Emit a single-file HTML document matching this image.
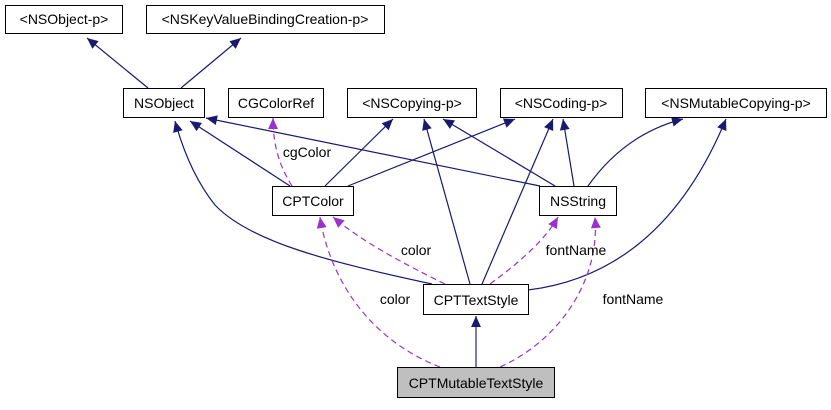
<!DOCTYPE html>
<html><head><meta charset="utf-8"><style>
body{margin:0;background:#fff;width:831px;height:405px;overflow:hidden}
text{font-family:"Liberation Sans",sans-serif;font-size:14px;fill:#000}
</style></head><body>
<svg width="831" height="405" viewBox="0 0 831 405" xmlns="http://www.w3.org/2000/svg">
<defs>
<marker id="n" viewBox="0 0 10 10" refX="10" refY="5" markerWidth="12" markerHeight="11" markerUnits="userSpaceOnUse" orient="auto"><path d="M0,0.5L10,5L0,9.5z" fill="#191970"/></marker>
<marker id="p" viewBox="0 0 10 10" refX="10" refY="5" markerWidth="12" markerHeight="11" markerUnits="userSpaceOnUse" orient="auto"><path d="M0,0.5L10,5L0,9.5z" fill="#9a32cd"/></marker>
</defs>
<g fill="none" stroke="#191970" stroke-width="1.2" marker-end="url(#n)">
<path d="M148,88L87,38"/>
<path d="M181,88L241,38"/>
<path d="M290,186L190,121"/>
<path d="M432,284C330,262 250,242 215,205C195,180 183,150 175,121"/>
<path d="M540,186L206,118"/>
<path d="M325,186L393,119"/>
<path d="M348,186L515,119"/>
<path d="M470,284L424,119"/>
<path d="M482,284L553,119"/>
<path d="M555,186L443,119"/>
<path d="M574,186L563,119"/>
<path d="M588,186C610,155 640,130 683,119"/>
<path d="M528,290C610,280 680,230 726,119"/>
<path d="M476,367L476,316" stroke="#5050a0" stroke-width="1.5"/>
</g>
<g fill="none" stroke="#9a32cd" stroke-width="1.2" stroke-dasharray="6,4" marker-end="url(#p)">
<path d="M292,186C282,170 273,150 273,118"/>
<path d="M445,284C400,262 360,240 333,217"/>
<path d="M440,367C370,340 330,280 320,217"/>
<path d="M490,284C520,262 545,240 558,217"/>
<path d="M500,367C560,340 600,280 595,217"/>
</g>
<g fill="#fff" stroke="#000" stroke-width="1">
<rect x="5.5" y="5.5" width="117" height="28"/>
<rect x="146.5" y="5.5" width="238" height="28"/>
<rect x="123.5" y="88.5" width="81" height="29"/>
<rect x="228.5" y="88.5" width="95" height="29"/>
<rect x="347.5" y="88.5" width="129" height="29"/>
<rect x="500.5" y="88.5" width="122" height="29"/>
<rect x="645.5" y="88.5" width="181" height="29"/>
<rect x="272.5" y="186.5" width="81" height="29"/>
<rect x="539.5" y="186.5" width="77" height="29"/>
<rect x="423.5" y="284.5" width="105" height="30"/>
<rect x="397.5" y="367.5" width="157" height="30" fill="#bfbfbf"/>
</g>
<g text-anchor="middle">
<text x="64" y="24">&lt;NSObject-p&gt;</text>
<text x="265" y="24">&lt;NSKeyValueBindingCreation-p&gt;</text>
<text x="164" y="108">NSObject</text>
<text x="276" y="108">CGColorRef</text>
<text x="412" y="108">&lt;NSCopying-p&gt;</text>
<text x="561" y="108">&lt;NSCoding-p&gt;</text>
<text x="736" y="108">&lt;NSMutableCopying-p&gt;</text>
<text x="313" y="206">CPTColor</text>
<text x="578" y="206">NSString</text>
<text x="476" y="305">CPTTextStyle</text>
<text x="476" y="388">CPTMutableTextStyle</text>
<text x="307" y="157">cgColor</text>
<text x="416" y="255">color</text>
<text x="395" y="304">color</text>
<text x="576" y="255">fontName</text>
<text x="633" y="304">fontName</text>
</g>
</svg>
</body></html>
